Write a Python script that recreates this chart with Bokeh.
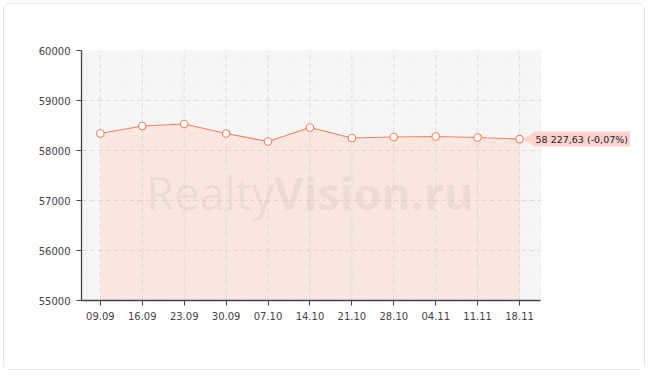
from bokeh.plotting import figure
from bokeh.models import (Range1d, FixedTicker, BoxAnnotation, Label, ColumnDataSource)
from bokeh.embed import file_html
from bokeh.resources import INLINE
import math

dates = ["09.09", "16.09", "23.09", "30.09", "07.10", "14.10", "21.10", "28.10", "04.11", "11.11", "18.11"]
prices = [58340, 58490, 58530, 58340, 58180, 58460, 58250, 58270, 58280, 58260, 58227.63]
y_ticks = [55000, 56000, 57000, 58000, 59000, 60000]
last_label = "58 227,63 (-0,07%)"
watermark_a = "Realty"
watermark_b = "Vision.ru"

idx = list(range(len(dates)))
base = [y_ticks[0]] * len(dates)
src = ColumnDataSource(dict(x=idx, y=prices, base=base))

x_start = -0.45
x_plot_end = len(dates) - 0.5
x_end = 12.885  # extra room on the right so the value callout is not clipped

grid_color = "#d6d0ce"
grid_dash = "5 3"
grid_alpha = 0.7

p = figure(width=642, height=367, output_backend="svg", toolbar_location=None,
           x_range=Range1d(x_start, x_end), y_range=Range1d(y_ticks[0], y_ticks[-1]),
           min_border_left=77, min_border_right=6, min_border_top=46, min_border_bottom=71,
           background_fill_color="white", border_fill_color="white",
           outline_line_color=None,
           styles={"margin-left": "3px", "margin-top": "3px",
                   "border": "1px solid #e6e6e6", "border-radius": "6px"})

# hatched background of the plotting area
bg = BoxAnnotation(right=x_plot_end, fill_color="#f9f9f9", fill_alpha=1.0,
                   line_color="#e2e2e2", line_width=1,
                   hatch_pattern="/", hatch_color="#ececec", hatch_scale=6, hatch_weight=0.7,
                   level="underlay")
p.add_layout(bg)

p.varea(x="x", y1="base", y2="y", source=src, fill_color="#fcebe5", fill_alpha=1.0,
        hatch_pattern="/", hatch_color="#f5dad2", hatch_scale=6, hatch_weight=0.7)

# grid lines, limited to the plotting area and drawn over the area fill
inner_ticks = y_ticks[1:-1]
p.segment(x0=[x_start] * len(inner_ticks), x1=[x_plot_end] * len(inner_ticks),
          y0=inner_ticks, y1=inner_ticks, line_color=grid_color, line_dash=grid_dash,
          line_alpha=grid_alpha, line_width=1)
p.segment(x0=idx, x1=idx, y0=[y_ticks[0]] * len(idx), y1=[y_ticks[-1]] * len(idx),
          line_color=grid_color, line_dash=grid_dash, line_alpha=grid_alpha, line_width=1)

# watermark
wm_x = 4.15
wm_y = 57160
p.add_layout(Label(x=wm_x, y=wm_y, text=watermark_a, text_align="right", text_baseline="alphabetic",
                   text_font="Open Sans", text_font_size="45px", text_color="#c9b8b3", text_alpha=0.25))
p.add_layout(Label(x=wm_x, y=wm_y, text=watermark_b, text_align="left", text_baseline="alphabetic",
                   text_font="Open Sans", text_font_size="45px", text_font_style="bold",
                   text_color="#c9b8b3", text_alpha=0.25))

p.line(x="x", y="y", source=src, line_color="#f4845f", line_width=1.2)

# callout arrow and label for the last value
p.scatter(x=[idx[-1] + 0.27], y=[prices[-1]], marker="triangle", size=13, angle=math.pi / 2,
          fill_color="#fdd3d0", line_color="#fdd3d0")
p.add_layout(Label(x=idx[-1], y=prices[-1], text=last_label, x_offset=14, y_offset=0,
                   text_baseline="middle", text_font="DejaVu Sans", text_font_size="9.5px",
                   text_color="#222222", background_fill_color="#fdd3d0", background_fill_alpha=1.0,
                   padding=2))

p.scatter(x="x", y="y", source=src, marker="circle", size=7.5, fill_color="white",
          line_color="#f4845f", line_width=1.2)

# built-in grids off (drawn above as segments)
p.ygrid.grid_line_color = None
p.xgrid.grid_line_color = None

# axes
p.xaxis.ticker = FixedTicker(ticks=idx)
p.xaxis.major_label_overrides = {i: d for i, d in zip(idx, dates)}
p.xaxis.bounds = (x_start, x_plot_end)
p.yaxis.ticker = FixedTicker(ticks=y_ticks)
for ax in (p.xaxis[0], p.yaxis[0]):
    ax.axis_line_color = "#444444"
    ax.axis_line_width = 1.3
    ax.major_tick_line_color = "#444444"
    ax.major_tick_in = 0
    ax.major_tick_out = 5
    ax.minor_tick_line_color = None
    ax.major_label_text_font = "DejaVu Sans"
    ax.major_label_text_font_size = "10px"
    ax.major_label_text_color = "#444444"
    ax.major_label_standoff = 6

with open("out.html", "w") as f:
    f.write(file_html(p, INLINE))
